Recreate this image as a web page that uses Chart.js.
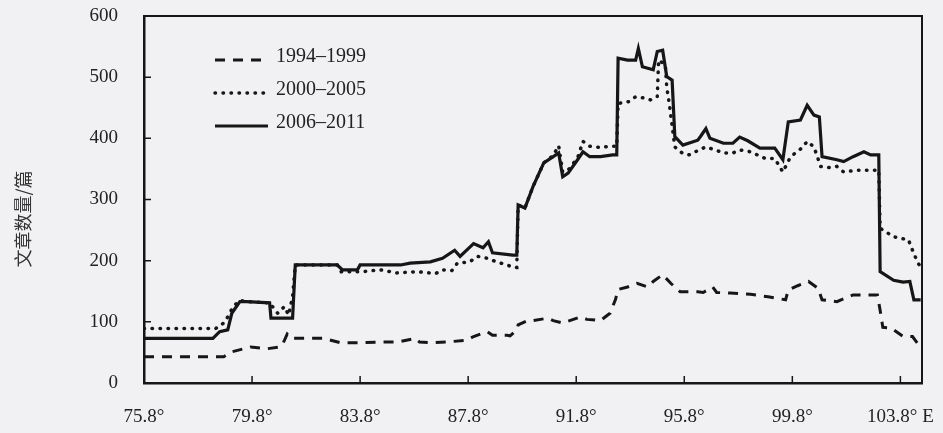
<!DOCTYPE html>
<html>
<head>
<meta charset="utf-8">
<script src="https://cdn.jsdelivr.net/npm/chart.js@4.4.1/dist/chart.umd.min.js"></script>
<style>
  body { margin: 0; background: #f1f0f2; }
  canvas { display: block; }
</style>
</head>
<body>
<canvas id="grafico" width="943" height="433"></canvas>
<script>
// ===========================
// Dados
// ===========================
const seriesLabels = ["1994–1999", "2000–2005", "2006–2011"];

const lon9499 = [75.8, 78.75, 79.05, 79.75, 80.35, 80.85, 80.95, 81.1, 81.25, 81.85, 82.45, 83.05, 83.8, 84.55, 85.2, 85.85, 86.0, 86.4, 87.0, 87.75, 88.0, 88.5, 88.7, 89.25, 89.35, 89.6, 89.65, 90.0, 90.2, 90.75, 90.95, 91.3, 91.95, 92.2, 92.7, 93.05, 93.25, 93.35, 93.7, 94.05, 94.45, 94.65, 95.0, 95.3, 95.65, 96.3, 96.5, 96.85, 97.0, 97.5, 98.25, 98.9, 99.55, 99.65, 100.0, 100.4, 100.75, 100.9, 101.45, 102.05, 102.95, 103.05, 103.15, 103.45, 103.9, 104.25, 104.45, 104.55];
const val9499 = [43, 43, 51, 59, 56, 59, 65, 80, 73, 73, 73, 66, 66, 67, 67, 73, 67, 66, 67, 70, 76, 84, 78, 78, 77, 87, 95, 102, 102, 106, 102, 98, 108, 104, 102, 114, 136, 153, 157, 163, 157, 166, 177, 163, 149, 149, 148, 157, 148, 147, 145, 141, 136, 152, 159, 166, 155, 136, 133, 144, 144, 119, 91, 90, 76, 76, 64, 64];

const lon0005 = [75.8, 78.45, 78.75, 78.9, 79.1, 79.35, 79.6, 80.45, 80.75, 81.0, 81.15, 81.3, 81.4, 82.95, 83.1, 83.9, 84.55, 85.15, 85.9, 86.6, 86.85, 87.2, 87.4, 87.85, 88.15, 88.5, 88.85, 89.25, 89.45, 89.6, 89.65, 89.9, 90.2, 90.6, 90.95, 91.15, 91.3, 91.5, 91.85, 92.05, 92.3, 92.7, 93.05, 93.3, 93.35, 93.75, 94.0, 94.3, 94.55, 94.8, 94.85, 95.1, 95.15, 95.25, 95.45, 95.75, 96.0, 96.3, 96.6, 96.95, 97.25, 97.6, 97.85, 98.25, 98.5, 98.8, 99.15, 99.45, 99.7, 99.9, 100.15, 100.35, 100.6, 100.85, 101.2, 101.45, 101.7, 102.2, 103.0, 103.05, 103.55, 104.1, 104.25, 104.45, 104.55];
const val0005 = [89, 89, 98, 108, 125, 135, 133, 131, 114, 125, 111, 141, 193, 193, 182, 182, 185, 180, 182, 179, 185, 184, 196, 198, 207, 204, 198, 193, 189, 189, 291, 286, 321, 360, 372, 388, 345, 348, 368, 395, 387, 385, 387, 387, 457, 460, 468, 466, 463, 468, 528, 520, 484, 455, 386, 375, 373, 380, 386, 381, 376, 376, 381, 378, 373, 367, 367, 345, 367, 376, 384, 395, 386, 354, 352, 354, 345, 348, 348, 253, 239, 234, 217, 196, 190];

const lon0611 = [75.8, 78.35, 78.6, 78.9, 79.05, 79.35, 79.6, 80.45, 80.5, 81.3, 81.4, 82.95, 83.15, 83.7, 83.8, 85.3, 85.65, 86.4, 86.85, 87.3, 87.5, 88.0, 88.35, 88.55, 88.7, 89.45, 89.6, 89.65, 89.9, 90.2, 90.6, 90.95, 91.15, 91.3, 91.5, 91.85, 92.05, 92.3, 92.7, 93.15, 93.3, 93.35, 93.7, 94.0, 94.1, 94.25, 94.65, 94.8, 95.0, 95.15, 95.35, 95.45, 95.75, 96.3, 96.4, 96.6, 96.75, 97.25, 97.6, 97.85, 98.15, 98.6, 99.15, 99.45, 99.65, 100.1, 100.35, 100.6, 100.8, 100.9, 101.45, 101.7, 102.05, 102.45, 102.7, 103.0, 103.05, 103.55, 103.9, 104.15, 104.3, 104.55];
const val0611 = [73, 73, 84, 87, 114, 133, 133, 131, 106, 106, 193, 193, 185, 185, 193, 193, 196, 198, 204, 217, 207, 228, 221, 231, 213, 209, 209, 291, 286, 321, 360, 370, 376, 337, 343, 365, 378, 370, 370, 373, 373, 531, 528, 528, 547, 517, 512, 542, 544, 501, 495, 403, 389, 397, 403, 416, 400, 392, 392, 402, 396, 384, 384, 365, 427, 430, 454, 438, 435, 370, 365, 362, 370, 378, 373, 373, 182, 168, 165, 166, 136, 136];

const lonTicks = [75.8, 79.8, 83.8, 87.8, 91.8, 95.8, 99.8, 103.8];
const lonTickLabels = ["75.8°", "79.8°", "83.8°", "87.8°", "91.8°", "95.8°", "99.8°", "103.8° E"];
const yTicks = [0, 100, 200, 300, 400, 500, 600];
const yTitle = "文章数量/篇";

// ===========================
// Estilo
// ===========================
const INK = "#161616";
const TEXT = "#222";
const SERIF = '"Liberation Serif", "DejaVu Serif", serif';

function toPoints(lons, vals) {
  return lons.map((x, i) => ({ x: x, y: vals[i] }));
}

// moldura, ticks internos, título do eixo e legenda
const extrasPlugin = {
  id: "extras",
  afterDraw(chart) {
    const ctx = chart.ctx;
    const area = chart.chartArea;
    const xs = chart.scales.x;
    const ys = chart.scales.y;
    ctx.save();
    ctx.strokeStyle = INK;

    // topo e lado direito
    ctx.lineWidth = 2;
    ctx.beginPath();
    ctx.moveTo(area.left, area.top);
    ctx.lineTo(area.right, area.top);
    ctx.lineTo(area.right, area.bottom);
    ctx.stroke();

    // ticks para dentro
    ctx.lineWidth = 1.5;
    ctx.beginPath();
    yTicks.slice(1, -1).forEach(v => {
      const py = ys.getPixelForValue(v);
      ctx.moveTo(area.left, py);
      ctx.lineTo(area.left + 7, py);
    });
    lonTicks.slice(1).forEach(v => {
      const px = xs.getPixelForValue(v);
      ctx.moveTo(px, area.bottom);
      ctx.lineTo(px, area.bottom - 7);
    });
    ctx.stroke();

    // título do eixo y
    ctx.fillStyle = "#333";
    ctx.font = '18px "Noto Sans CJK SC"';
    ctx.textAlign = "center";
    ctx.textBaseline = "middle";
    ctx.save();
    ctx.translate(23, 219);
    ctx.rotate(-Math.PI / 2);
    ctx.fillText(yTitle, 0, 0);
    ctx.restore();

    // legenda
    const legendY = [57, 90, 123];
    ctx.font = "20px " + SERIF;
    ctx.textAlign = "left";
    chart.data.datasets.forEach((ds, i) => {
      const y = legendY[i];
      ctx.save();
      ctx.strokeStyle = ds.borderColor;
      ctx.lineWidth = ds.borderWidth;
      ctx.lineCap = ds.borderCapStyle || "butt";
      ctx.setLineDash(ds.borderDash || []);
      ctx.beginPath();
      ctx.moveTo(215, y + 3);
      ctx.lineTo(268, y + 3);
      ctx.stroke();
      ctx.restore();
      ctx.fillStyle = TEXT;
      ctx.fillText(ds.label, 276, y);
    });
    ctx.restore();
  }
};

// ===========================
// Gráfico
// ===========================
const ctx = document.getElementById("grafico").getContext("2d");
new Chart(ctx, {
  type: "line",
  data: {
    datasets: [
      {
        label: seriesLabels[0],
        data: toPoints(lon9499, val9499),
        borderColor: INK,
        borderWidth: 3,
        borderDash: [10, 8]
      },
      {
        label: seriesLabels[1],
        data: toPoints(lon0005, val0005),
        borderColor: INK,
        borderWidth: 3.5,
        borderDash: [0.5, 7.5],
        borderCapStyle: "round"
      },
      {
        label: seriesLabels[2],
        data: toPoints(lon0611, val0611),
        borderColor: INK,
        borderWidth: 3.2
      }
    ]
  },
  options: {
    responsive: false,
    animation: false,
    elements: { point: { radius: 0 }, line: { tension: 0 } },
    layout: { padding: { left: 0, right: 21, top: 16, bottom: 0 } },
    plugins: { legend: { display: false }, tooltip: { enabled: false } },
    scales: {
      x: {
        type: "linear",
        min: 75.8,
        max: 104.6,
        afterBuildTicks: s => { s.ticks = lonTicks.map(v => ({ value: v })); },
        afterFit: s => {
          s.height = 50;
          s.paddingLeft = 0;
          s.paddingRight = 0;
        },
        ticks: {
          autoSkip: false,
          maxRotation: 0,
          padding: 23,
          color: TEXT,
          font: { family: SERIF, size: 19 },
          callback: (v) => lonTickLabels[lonTicks.indexOf(v)]
        },
        grid: { display: false, drawTicks: false },
        border: { display: true, width: 2.5, color: INK }
      },
      y: {
        min: 0,
        max: 600,
        afterBuildTicks: s => { s.ticks = yTicks.map(v => ({ value: v })); },
        afterFit: s => {
          s.width = 144;
          s.paddingTop = 0;
          s.paddingBottom = 0;
        },
        ticks: {
          padding: 26,
          color: TEXT,
          font: { family: SERIF, size: 19 }
        },
        grid: { display: false, drawTicks: false },
        border: { display: true, width: 2.5, color: INK }
      }
    }
  },
  plugins: [extrasPlugin]
});
</script>
</body>
</html>
